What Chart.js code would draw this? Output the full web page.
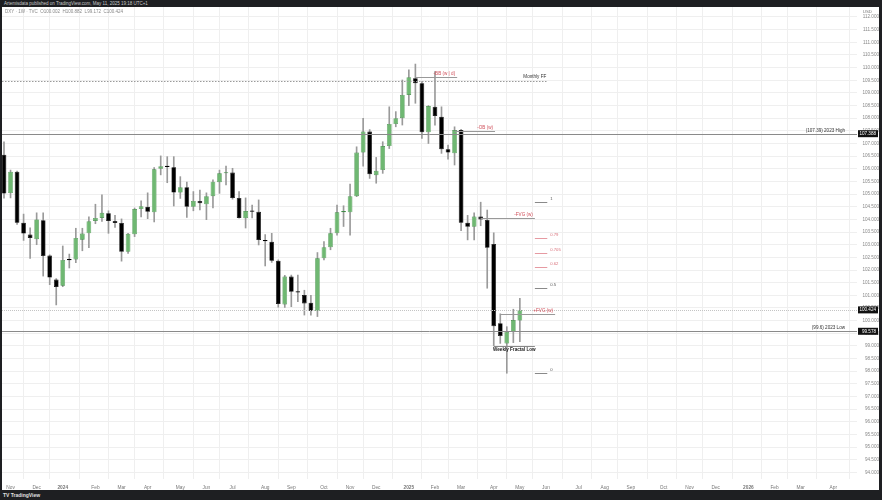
<!DOCTYPE html>
<html>
<head>
<meta charset="utf-8">
<script src="https://cdn.jsdelivr.net/npm/chart.js@4.4.1/dist/chart.umd.min.js"></script>
<style>
html, body { margin: 0; padding: 0; background: #1e1f22; }
body { width: 882px; height: 500px; position: relative; overflow: hidden; font-family: "Liberation Sans", Arial, sans-serif; }
#top { position: absolute; left: 4px; top: 0; height: 7px; line-height: 7px; font-size: 4.5px; color: #c8c8c8; }
#panel { position: absolute; left: 2px; top: 7px; width: 877px; height: 483px; background: #fff; }
#sym { position: absolute; left: 3px; top: 2px; font-size: 4.5px; color: #888; z-index: 2; }
#foot { position: absolute; left: 3px; top: 490px; height: 10px; line-height: 10px; font-size: 5px; color: #e0e0e0; font-weight: bold; }
canvas { position: absolute; left: 0; top: 0; }
</style>
</head>
<body>
<div id="top">Artemisdata published on TradingView.com, May 11, 2025 19:18 UTC+1</div>
<div id="panel">
  <div id="sym">DXY · 1W · TVC &nbsp;O100.002 &nbsp;H100.882 &nbsp;L99.172 &nbsp;C100.424</div>
  <canvas id="chart" width="877" height="483"></canvas>
</div>
<div id="foot">TV TradingView</div>
<script>
// weekly DXY candles, first bar = week of 30 Oct 2023
const firstWeek = Date.UTC(2023, 9, 30);
const opens = [106.56, 105.04, 105.88, 103.87, 103.40, 103.22, 103.97, 102.57, 101.62, 101.38,
  102.42, 102.42, 103.20, 103.45, 103.94, 104.06, 104.24, 103.94, 103.86, 102.72,
  103.41, 104.41, 104.50, 104.28, 106.00, 106.10, 106.06, 105.06, 105.27, 104.50,
  104.73, 104.60, 104.92, 105.47, 105.82, 105.85, 104.85, 104.05, 104.32, 104.30,
  103.18, 103.12, 102.37, 100.64, 101.74, 101.14, 101.01, 100.71, 100.38, 102.46,
  102.90, 103.45, 104.28, 104.28, 104.92, 106.64, 107.47, 105.75, 105.95, 106.90,
  107.77, 108.00, 108.92, 109.58, 109.38, 107.44, 108.45, 108.06, 106.77, 106.61,
  107.53, 103.87, 103.71, 104.11, 103.98, 103.03, 99.90, 99.10, 99.56, 100.00];
const highs = [107.07, 105.95, 105.91, 104.21, 103.67, 104.26, 104.26, 102.60, 101.66, 102.95,
  102.63, 103.65, 103.65, 104.10, 104.60, 104.97, 104.34, 104.16, 104.02, 103.45,
  104.45, 104.73, 105.05, 106.05, 106.51, 106.48, 106.48, 105.69, 105.48, 105.10,
  105.16, 105.05, 105.56, 105.95, 106.11, 106.02, 105.10, 104.85, 104.57, 104.77,
  103.40, 103.45, 102.40, 101.79, 101.80, 101.80, 101.20, 101.00, 102.69, 103.12,
  103.65, 104.57, 104.54, 105.40, 106.87, 107.99, 107.55, 106.45, 107.07, 108.45,
  108.26, 109.51, 109.91, 110.14, 109.45, 108.50, 109.84, 108.45, 106.94, 107.66,
  107.56, 104.16, 104.26, 104.68, 104.37, 103.47, 100.27, 99.76, 100.45, 100.88];
const lows = [104.84, 104.85, 103.80, 103.17, 102.46, 103.00, 101.76, 101.42, 100.62, 101.34,
  102.08, 102.29, 102.76, 102.88, 103.83, 103.92, 103.45, 103.68, 102.35, 102.66,
  103.32, 104.10, 104.03, 103.90, 105.76, 105.45, 104.53, 104.83, 104.08, 104.34,
  104.37, 103.99, 104.45, 105.03, 105.36, 104.80, 104.05, 103.66, 104.06, 102.99,
  102.16, 102.30, 100.53, 100.52, 100.55, 100.75, 100.22, 100.22, 100.16, 102.40,
  102.80, 103.38, 103.72, 103.38, 104.90, 106.10, 105.62, 105.43, 105.82, 106.80,
  107.66, 107.73, 108.50, 108.59, 107.20, 107.00, 107.72, 106.61, 106.38, 106.15,
  103.55, 103.19, 103.19, 103.75, 101.28, 99.01, 99.10, 97.92, 99.13, 99.17];
const closes = [105.02, 105.88, 103.87, 103.44, 103.27, 104.00, 102.55, 101.70, 101.33, 102.40,
  102.39, 103.27, 103.44, 103.93, 104.06, 104.26, 103.94, 103.86, 102.72, 103.43,
  104.41, 104.52, 104.30, 105.98, 106.10, 106.07, 105.06, 105.27, 104.50, 104.73,
  104.64, 104.92, 105.49, 105.82, 105.85, 104.85, 104.06, 104.33, 104.30, 103.19,
  103.14, 102.37, 100.66, 101.74, 101.14, 101.11, 100.68, 100.38, 102.46, 102.90,
  103.45, 104.28, 104.29, 104.92, 106.64, 107.47, 105.78, 105.92, 106.90, 107.77,
  108.00, 108.92, 109.62, 109.38, 107.44, 108.48, 108.09, 106.77, 106.64, 107.53,
  103.87, 103.71, 104.11, 104.00, 102.88, 99.78, 99.39, 99.55, 100.02, 100.424];

// time axis
const tickLabels = ['Nov', 'Dec', '2024', 'Feb', 'Mar', 'Apr', 'May', 'Jun', 'Jul', 'Aug', 'Sep', 'Oct',
  'Nov', 'Dec', '2025', 'Feb', 'Mar', 'Apr', 'May', 'Jun', 'Jul', 'Aug', 'Sep', 'Oct',
  'Nov', 'Dec', '2026', 'Feb', 'Mar', 'Apr'];
const tickMonths = ['2023-11', '2023-12', '2024-01', '2024-02', '2024-03', '2024-04', '2024-05', '2024-06',
  '2024-07', '2024-08', '2024-09', '2024-10', '2024-11', '2024-12', '2025-01', '2025-02', '2025-03',
  '2025-04', '2025-05', '2025-06', '2025-07', '2025-08', '2025-09', '2025-10', '2025-11', '2025-12',
  '2026-01', '2026-02', '2026-03', '2026-04'];

// drawn levels
const highLowPrices = [107.388, 99.578];
const highLowNames = ['(107.39) 2023 High', '(99.6) 2023 Low'];
const lastPrice = 100.424;
const monthlyFF = 109.48;
const rayNames = ['-BB (w | d)', '-OB (w)', '-FVG (w)', '+FVG (w)'];
const rayPrices = [109.64, 107.50, 104.07, 100.27];
const rayFrom = [63, 69, 73, 76];
const rayTo = [69.4, 75.2, 81.3, 84.4];
const fractalLow = 99.01;
const fractalFrom = 75, fractalTo = 81.3;
const fibLevels = [1, 0.79, 0.705, 0.62, 0.5, 0];
const fibHigh = 104.68, fibLow = 97.92;
const fibFrom = 81.3, fibTo = 83.2;

function weekIndexOfMonth(ym) {
    const [yy, mm] = ym.split('-').map(Number);
    let d = Date.UTC(yy, mm - 1, 1);
    while (new Date(d).getUTCDay() !== 1) d += 86400000;
    return Math.round((d - firstWeek) / (7 * 86400000));
}

const green = '#6fb872';
const isUp = i => closes[i] >= opens[i];
const bodies = opens.map((o, i) => ({ x: i, y: [o, closes[i]] }));
const wicks = opens.map((o, i) => ({ x: i, y: [lows[i], highs[i]] }));

const FONT = '"Liberation Sans", Arial, sans-serif';

const drawings = {
    id: 'drawings',
    afterDatasetsDraw(chart) {
        const { ctx, scales: { x, y }, chartArea: a } = chart;
        ctx.save();
        ctx.beginPath();
        ctx.rect(a.left, a.top, a.right - a.left, a.bottom - a.top);
        ctx.clip();

        const hline = (p, x0, x1, color, dash) => {
            const py = Math.round(y.getPixelForValue(p)) + 0.5;
            ctx.beginPath();
            ctx.setLineDash(dash || []);
            ctx.strokeStyle = color;
            ctx.lineWidth = 1;
            ctx.moveTo(x0, py);
            ctx.lineTo(x1, py);
            ctx.stroke();
            ctx.setLineDash([]);
            return py;
        };
        const text = (s, px, py, color, align, base, size, bold) => {
            ctx.font = (bold ? 'bold ' : '') + size + 'px ' + FONT;
            ctx.fillStyle = color;
            ctx.textAlign = align;
            ctx.textBaseline = base;
            ctx.fillText(s, px, py);
        };

        // last price
        hline(lastPrice, a.left, a.right, '#c4c4c4', [1, 1]);

        // 2023 high / low
        highLowPrices.forEach((p, k) => {
            const py = hline(p, a.left, a.right, '#8a8a8a');
            text(highLowNames[k], a.right - 12, py - 1, '#333', 'right', 'bottom', 4.6);
        });

        // monthly FF
        const ffx = x.getPixelForValue(83.2);
        const ffy = hline(monthlyFF, a.left, ffx, '#9a9a9a', [1.5, 1.5]);
        text('Monthly FF', ffx - 1, ffy - 2, '#333', 'right', 'bottom', 4.6);

        // rays
        rayNames.forEach((n, k) => {
            const x0 = x.getPixelForValue(rayFrom[k]);
            const x1 = x.getPixelForValue(rayTo[k]);
            const py = hline(rayPrices[k], x0, x1, '#999');
            text(n, x1 - 2, py - 1, '#d04f5a', 'right', 'bottom', 4.6);
        });

        // weekly fractal low
        const fx0 = x.getPixelForValue(fractalFrom);
        const fx1 = x.getPixelForValue(fractalTo);
        const fy = hline(fractalLow, fx0, fx1, '#888');
        text('Weekly Fractal Low', (fx0 + fx1) / 2, fy + 1, '#222', 'center', 'top', 4.6, true);

        // fib levels
        const bx0 = x.getPixelForValue(fibFrom);
        const bx1 = x.getPixelForValue(fibTo);
        fibLevels.forEach(f => {
            const p = fibLow + f * (fibHigh - fibLow);
            const mid = f > 0.5 && f < 1;
            const col = mid ? '#e69aa2' : '#8a8a8a';
            const py = hline(p, bx0, bx1, col);
            text(String(f), bx1 + 3, py - 1.5, mid ? '#d9707a' : '#555', 'left', 'bottom', 4.2);
        });
        ctx.restore();
    },
    afterDraw(chart) {
        const { ctx, scales: { y }, chartArea: a } = chart;
        ctx.save();
        // axis currency
        ctx.font = '4.4px ' + FONT;
        ctx.fillStyle = '#777';
        ctx.textAlign = 'right';
        ctx.textBaseline = 'middle';
        ctx.fillText('USD', chart.width - 7, 5);
        // price boxes
        [highLowPrices[0], lastPrice, highLowPrices[1]].forEach(p => {
            const py = y.getPixelForValue(p);
            ctx.fillStyle = '#111';
            ctx.fillRect(a.right + 1, py - 3.5, 20, 7);
            ctx.font = '4.6px ' + FONT;
            ctx.fillStyle = '#fff';
            ctx.textAlign = 'right';
            ctx.textBaseline = 'middle';
            ctx.fillText(p.toFixed(3), chart.width - 3, py + 0.3);
        });
        ctx.restore();
    }
};

new Chart(document.getElementById('chart'), {
    type: 'bar',
    data: {
        datasets: [{
            label: 'body',
            data: bodies,
            order: 1,
            grouped: false,
            categoryPercentage: 1,
            barPercentage: 0.72,
            minBarLength: 1.2,
            backgroundColor: c => isUp(c.dataIndex) ? green : '#000',
            borderColor: c => isUp(c.dataIndex) ? '#3f8a45' : '#000',
            borderWidth: 0.6,
            borderSkipped: false
        }, {
            label: 'wick',
            data: wicks,
            order: 2,
            grouped: false,
            barThickness: 1,
            backgroundColor: '#9a9a9a',
            borderWidth: 0
        }]
    },
    options: {
        responsive: false,
        animation: false,
        events: [],
        layout: { padding: 0 },
        plugins: { legend: { display: false }, tooltip: { enabled: false } },
        scales: {
            x: {
                type: 'linear',
                min: -0.306,
                max: 130.63,
                offset: false,
                afterBuildTicks: s => { s.ticks = tickMonths.map(m => ({ value: weekIndexOfMonth(m) })); },
                afterFit: s => { s.height = 11; s.paddingLeft = 0; s.paddingRight = 0; },
                grid: { color: '#efefef', drawTicks: false },
                border: { display: false },
                ticks: {
                    autoSkip: false,
                    maxRotation: 0,
                    padding: 5.5,
                    color: '#777',
                    font: c => ({ size: 4.8, family: FONT, weight: /^\d{4}$/.test(tickLabels[c.index]) ? 'bold' : 'normal' }),
                    callback: (v, i) => tickLabels[i]
                }
            },
            y: {
                position: 'right',
                min: 93.74,
                max: 112.395,
                afterFit: s => { s.width = 22; s.paddingTop = 0; s.paddingBottom = 0; },
                grid: { color: '#efefef', drawTicks: false },
                border: { display: false },
                ticks: {
                    stepSize: 0.5,
                    includeBounds: false,
                    crossAlign: 'far',
                    padding: 2,
                    color: '#888',
                    font: { size: 4.6, family: FONT },
                    callback: v => v.toFixed(3)
                }
            }
        }
    },
    plugins: [drawings]
});
</script>
</body>
</html>
